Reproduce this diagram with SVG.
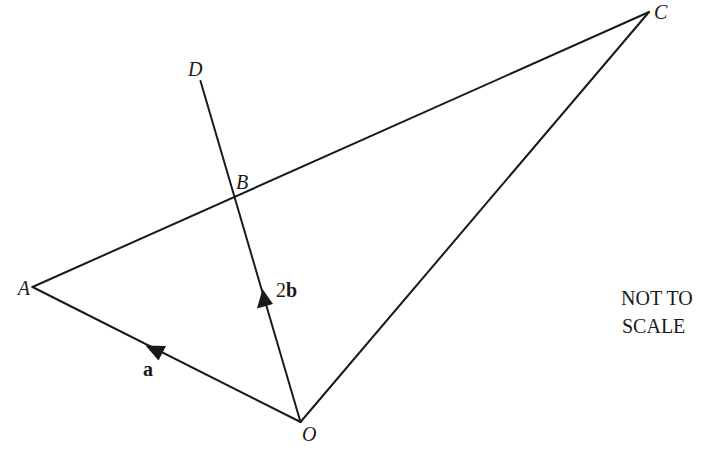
<svg xmlns="http://www.w3.org/2000/svg" width="715" height="456" viewBox="0 0 715 456">
<style>
.ln{stroke:#1a1a1a;stroke-width:2;fill:none;stroke-linecap:round}
.lb{font-family:"Liberation Serif","Times New Roman","DejaVu Serif",serif;font-size:20px;fill:#1a1a1a}
.it{font-style:italic}
.bd{font-weight:bold}
.ah{fill:#1a1a1a}
</style>
<rect width="715" height="456" fill="#fff"/>
<g id="connectors">
<line class="ln" x1="32.5" y1="287" x2="649" y2="12"/>
<line class="ln" x1="32.5" y1="287" x2="300.5" y2="422"/>
<line class="ln" x1="300.5" y1="422" x2="649" y2="12"/>
<line class="ln" x1="200.5" y1="81" x2="300.5" y2="422"/>
<polygon class="ah" points="262.5,289 273,304 257,308.5"/>
<polygon class="ah" points="145.5,345.5 166,346 158.5,360.5"/>
</g>
<g id="node-A"><text class="lb it" x="30" y="295" text-anchor="end">A</text></g>
<g id="node-O"><text class="lb it" x="302" y="441">O</text></g>
<g id="node-C"><text class="lb it" x="654" y="19">C</text></g>
<g id="node-D"><text class="lb it" x="188" y="76">D</text></g>
<g id="node-B"><text class="lb it" x="236" y="189">B</text></g>
<g id="label-2b"><text class="lb" x="276" y="297">2<tspan class="bd">b</tspan></text></g>
<g id="label-a"><text class="lb bd" x="143" y="376">a</text></g>
<g id="note"><text class="lb" x="621" y="305">NOT TO</text><text class="lb" x="622" y="333">SCALE</text></g>
</svg>
